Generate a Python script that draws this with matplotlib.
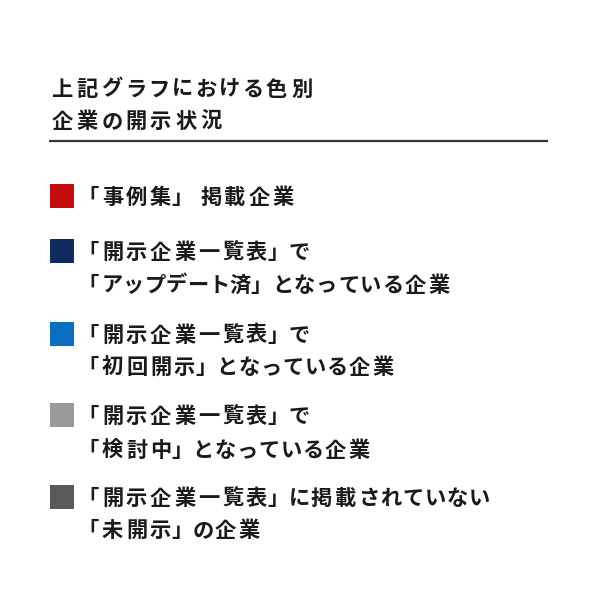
import matplotlib
matplotlib.use('Agg')
import matplotlib.pyplot as plt
from matplotlib.patches import Rectangle

plt.rcParams['font.family'] = ['Noto Sans CJK JP', 'DejaVu Sans']

title_lines = ['上記グラフにおける色別', '企業の開示状況']
legend_colors = ['#c30d0d', '#0f2a5e', '#0b6fc1', '#9a9a9a', '#5a5a5a']
legend_labels = [
    ['「事例集」掲載企業'],
    ['「開示企業一覧表」で', '「アップデート済」となっている企業'],
    ['「開示企業一覧表」で', '「初回開示」となっている企業'],
    ['「開示企業一覧表」で', '「検討中」となっている企業'],
    ['「開示企業一覧表」に掲載されていない', '「未開示」の企業'],
]

FS = 15.3
EM = FS * 100 / 72
TEXT_COLOR = '#1a1a1a'

fig = plt.figure(figsize=(6, 6.06), dpi=100)
ax = fig.add_axes([0, 0, 1, 1])
ax.set_xlim(0, 600)
ax.set_ylim(606, 0)
ax.axis('off')


def is_kana(ch):
    return '\u3040' <= ch <= '\u30ff'


def tracked_text(x, yc, s, kanji_w=24.0, hira_w=22.0, kata_w=EM):
    # char by char, to get the wide letter spacing of the original
    base = yc + 0.38 * EM
    for i, ch in enumerate(s):
        nxt = s[i + 1] if i + 1 < len(s) else ''
        if ch == '「':
            adv = 24.8
        elif ch == '」':
            x -= kanji_w - 21.4
            adv = EM if is_kana(nxt) else 28.8
        elif '\u3040' <= ch <= '\u309f':
            adv = hira_w
        elif is_kana(ch):
            adv = kata_w
        else:
            adv = kanji_w
        ax.text(x, base, ch, fontsize=FS, fontweight='bold',
                color=TEXT_COLOR, ha='left', va='baseline')
        x += adv


title_y = [87.5, 120]
for line, y in zip(title_lines, title_y):
    tracked_text(51.5, y, line, kanji_w=25.0, hira_w=23.5, kata_w=23.5)

ax.plot([49, 548], [140.5, 140.5], color='#333333', lw=1.6,
        solid_capstyle='butt')

rows_y = [(195.5,), (251, 283.5), (333.5, 366), (415, 449), (497, 529)]
for color, lines, ys in zip(legend_colors, legend_labels, rows_y):
    ax.add_patch(Rectangle((50, ys[0] - 12), 24, 24, facecolor=color,
                           edgecolor='none'))
    for line, y in zip(lines, ys):
        tracked_text(77.2, y, line)

fig.savefig('out.png', dpi=100, facecolor='white')
